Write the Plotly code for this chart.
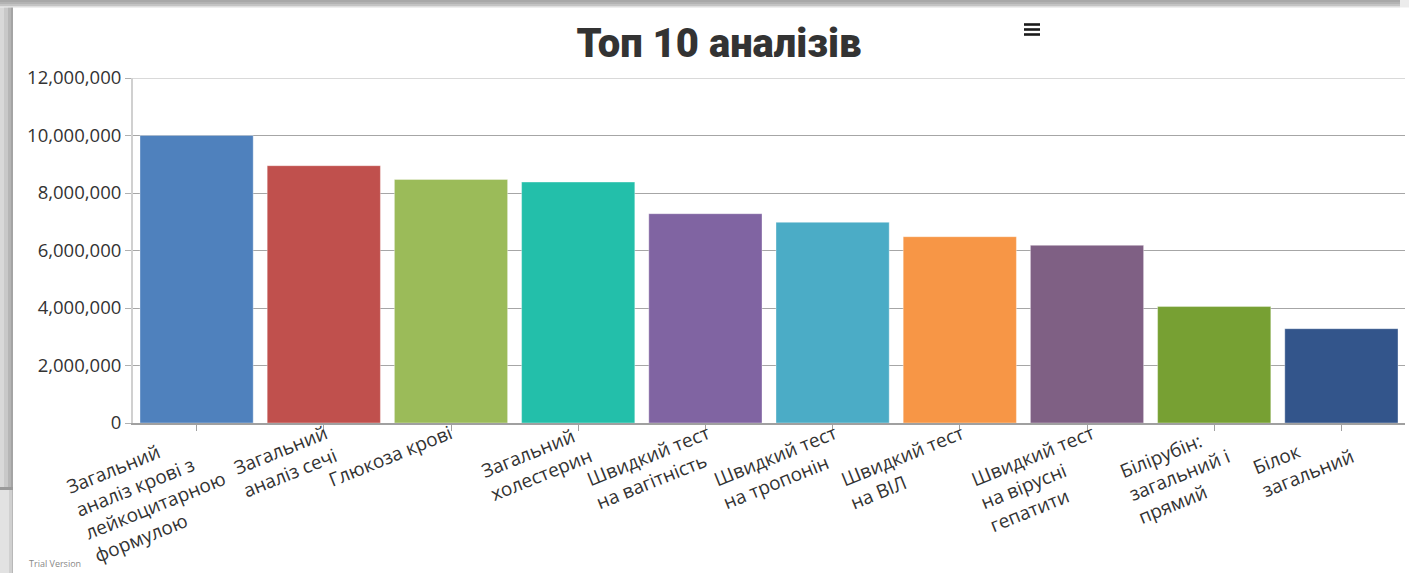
import math
import plotly.graph_objects as go

# ---------------- data ----------------
categories = [
    "Загальний аналіз крові з лейкоцитарною формулою",
    "Загальний аналіз сечі",
    "Глюкоза крові",
    "Загальний холестерин",
    "Швидкий тест на вагітність",
    "Швидкий тест на тропонін",
    "Швидкий тест на ВІЛ",
    "Швидкий тест на вірусні гепатити",
    "Білірубін: загальний і прямий",
    "Білок загальний",
]
category_labels = [
    ["Загальний", "аналіз крові з", "лейкоцитарною", "формулою"],
    ["Загальний", "аналіз сечі"],
    ["Глюкоза крові"],
    ["Загальний", "холестерин"],
    ["Швидкий тест", "на вагітність"],
    ["Швидкий тест", "на тропонін"],
    ["Швидкий тест", "на ВІЛ"],
    ["Швидкий тест", "на вірусні", "гепатити"],
    ["Білірубін:", "загальний і", "прямий"],
    ["Білок", "загальний"],
]
values = [10000000, 8950000, 8470000, 8380000, 7280000,
          6980000, 6480000, 6180000, 4050000, 3280000]
bar_colors = ["#4F81BD", "#C0504D", "#9BBB59", "#23BFAA", "#8064A2",
              "#4BACC6", "#F79646", "#7F6084", "#77A033", "#33558B"]
y_tick_values = [0, 2000000, 4000000, 6000000, 8000000, 10000000, 12000000]
y_tick_labels = ["0", "2,000,000", "4,000,000", "6,000,000",
                 "8,000,000", "10,000,000", "12,000,000"]
title_text = "Топ 10 аналізів"
watermark = "Trial Version"

# ---------------- layout geometry ----------------
W, H = 1409, 573
ML, MR, MT, MB = 133, 4, 78, 150
PW, PH = W - ML - MR, H - MT - MB


def px(xp):
    return (xp - ML) / PW


def py(yp):
    return (H - MB - yp) / PH


fig = go.Figure()
fig.add_trace(go.Bar(
    x=categories, y=values,
    marker=dict(color=bar_colors, line=dict(color="rgba(255,255,255,0.35)", width=1)),
    hoverinfo="skip",
))

shapes = []


def rect(x0, y0, x1, y1, color):
    shapes.append(dict(type="rect", xref="paper", yref="paper",
                       x0=px(x0), x1=px(x1), y0=py(y0), y1=py(y1),
                       line=dict(width=0), fillcolor=color, layer="above"))


# frame / drop-shadow of the card
for (a, b, c) in [(0, 2, "#a8a8a8"), (2, 4, "#b3b3b3"), (4, 6, "#c3c3c3"), (6, 7.5, "#dedede")]:
    rect(0, a, 1400, b, c)
    rect(1400, a, W, b, "#ececec")
for (a, b, c) in [(0, 4, "#d8d8d8"), (4, 8, "#c8c8c8"), (8, 11, "#b5b5b5"), (11, 13, "#a4a4a4")]:
    rect(a, 7.5, b, 488, c)
for (a, b, c) in [(0, 9, "#e2e2e2"), (9, 11.5, "#d0d0d0"), (11.5, 13, "#b8b8b8")]:
    rect(a, 488, b, H, c)
rect(0, 487, 13, 490, "#9a9a9a")

# top light gridline at 12M
shapes.append(dict(type="line", xref="paper", yref="y", x0=0, x1=1,
                   y0=y_tick_values[-1], y1=y_tick_values[-1],
                   line=dict(color="#d9d9d9", width=2), layer="above"))

# menu icon (three bars)
for yy in (24.5, 29.5, 34.5):
    shapes.append(dict(type="line", xref="paper", yref="paper",
                       x0=px(1024), x1=px(1040), y0=py(yy), y1=py(yy),
                       line=dict(color="#1a1a1a", width=2.6), layer="above"))

# rotated, left-aligned category labels
angle = -22
lab_fs = 19
annotations = []
sin_a = abs(math.sin(math.radians(angle)))
for cat, lines in zip(categories, category_labels):
    n = len(lines)
    box_h = lab_fs * (1.3 * (n - 1) + 1.25) + 4
    annotations.append(dict(
        x=cat, y=0, xref="x", yref="y",
        text="<br>".join(lines), showarrow=False, align="left",
        textangle=angle, xanchor="right", yanchor="top",
        xshift=box_h * sin_a - 3 + 3 * (n - 1), yshift=6,
        font=dict(family="Open Sans, sans-serif", size=lab_fs, color="#333333"),
    ))

annotations.append(dict(
    x=px(27), y=py(563), xref="paper", yref="paper", text=watermark, showarrow=False,
    xanchor="left", yanchor="middle",
    font=dict(family="Open Sans, sans-serif", size=9, color="#888888"),
))

fig.update_layout(
    width=W, height=H,
    margin=dict(l=ML, r=MR, t=MT, b=MB, pad=0),
    paper_bgcolor="white", plot_bgcolor="white",
    showlegend=False, bargap=0.11,
    title=dict(text=title_text, x=719 / W, xref="container", xanchor="center",
               y=1 - 43 / H, yref="container", yanchor="middle",
               font=dict(family="Roboto, DejaVu Sans, sans-serif",
                         size=40, color="#333333", weight=900)),
    xaxis=dict(type="category", range=[-0.5, len(categories) - 0.5],
               showticklabels=False, ticks="outside", ticklen=6,
               tickcolor="#a0a0a0", tickwidth=1,
               showline=True, linecolor="#a0a0a0", linewidth=2,
               showgrid=False, fixedrange=True),
    yaxis=dict(range=[0, 12000000], tickvals=y_tick_values, ticktext=y_tick_labels,
               ticks="outside", ticklen=6, tickcolor="#b0b0b0", tickwidth=1,
               showline=True, linecolor="#d0d0d0", linewidth=2,
               showgrid=True, gridcolor="#a6a6a6", gridwidth=1,
               zeroline=False, fixedrange=True,
               tickfont=dict(family="Open Sans, sans-serif", size=18.5, color="#333333")),
    shapes=shapes, annotations=annotations,
)

fig.write_html(
    "out.html",
    config={"displayModeBar": False},
    post_script="document.body.style.margin='0px';document.body.style.overflow='hidden';",
)
